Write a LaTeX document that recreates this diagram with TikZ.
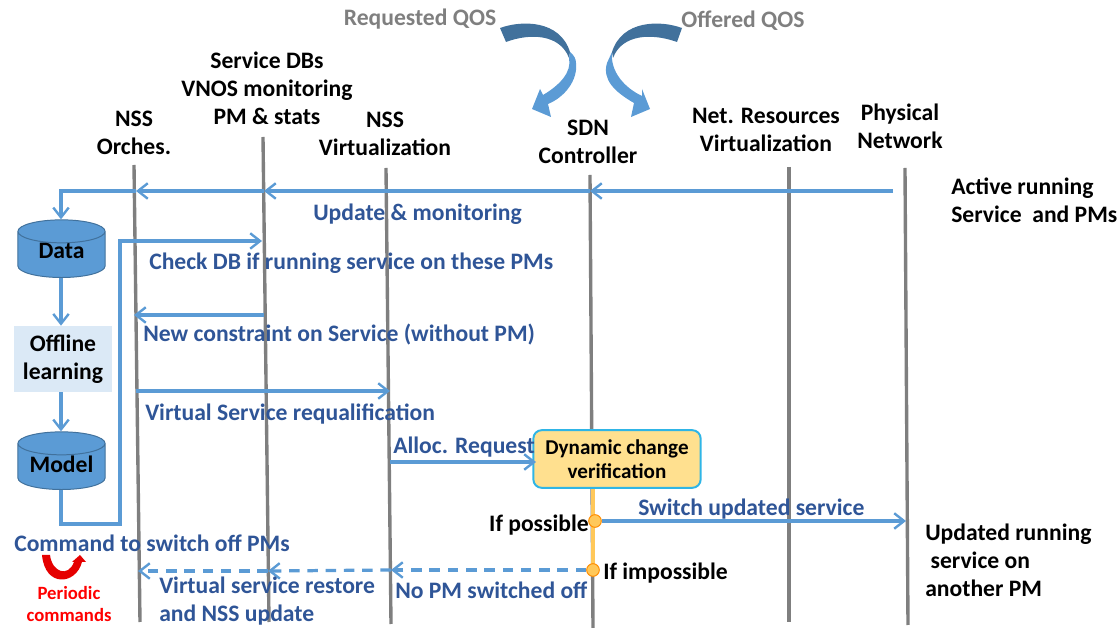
\documentclass[tikz,border=0pt]{standalone}
\usepackage{fontspec}
\setmainfont{Carlito}
\usetikzlibrary{arrows.meta,shapes.geometric}
\definecolor{msgblue}{HTML}{5B9BD5}
\definecolor{darkblue}{HTML}{41719C}
\definecolor{textblue}{HTML}{2F5597}
\definecolor{lifegray}{HTML}{7F7F7F}
\definecolor{boxyellow}{HTML}{FFE08F}
\definecolor{boxcyan}{HTML}{2FB5E6}
\definecolor{pointyellow}{HTML}{FFC85A}
\begin{document}
\begin{tikzpicture}
[x=0.025cm,y=-0.025cm,
  lifedecorate/.style={-,line width=2.4pt,lifegray},
  msgdecorate/.style={-{Straight Barb[length=7pt,width=11pt,line width=1.7pt]},line width=2.3pt,msgblue},
  dashdecorate/.style={msgdecorate,dash pattern=on 7.5pt off 5.5pt},
  headdecorate/.style={inner sep=0pt,align=center,font=\fontsize{16.8}{19.9}\selectfont\bfseries},
  msgtext/.style={inner sep=0pt,anchor=west,text height=14.5pt,text depth=3pt,textblue,font=\fontsize{16.8}{19.9}\selectfont\bfseries},
  blacktext/.style={msgtext,black},
  storedecorate/.style={shape=cylinder,shape border rotate=90,aspect=0.5,draw=darkblue,fill=msgblue,anchor=south,
    minimum width=62pt,minimum height=41pt,inner sep=0pt,line width=0.7pt,font=\fontsize{16.8}{19.9}\selectfont\bfseries},
  pointdecorate/.style={shape=circle,inner sep=0pt,minimum size=9pt,fill=pointyellow,draw=orange!90!yellow,line width=0.7pt}]
% lifeline ends
\useasboundingbox (0,0) rectangle (1120,628);
\coordinate (orchT) at (134,165);
\coordinate (orchB) at (140,622);
\coordinate (dbT) at (263,137);
\coordinate (dbB) at (269,622);
\coordinate (virtT) at (386,168);
\coordinate (virtB) at (391,624);
\coordinate (sdnT) at (590,175);
\coordinate (sdnB) at (593,628);
\coordinate (netT) at (789,167);
\coordinate (netB) at (789,622);
\coordinate (physT) at (905,168);
\coordinate (physB) at (908,625);
\draw[lifedecorate] (orchT) -- (orchB);
\draw[lifedecorate] (dbT) -- (dbB);
\draw[lifedecorate] (virtT) -- (virtB);
\draw[lifedecorate] (sdnT) -- (sdnB);
\draw[lifedecorate] (netT) -- (netB);
\draw[lifedecorate] (physT) -- (physB);
% headers
\node (reqqos) at (420,19) [headdecorate,lifegray] {Requested QOS};
\node (offqos) at (743,21) [headdecorate,lifegray] {Offered QOS};
\node (orchname) at (134,133) [headdecorate] {NSS\\Orches.};
\node (dbname) at (267,88) [headdecorate] {Service DBs\\VNOS monitoring\\PM \& stats};
\node (virtname) at (385,134) [headdecorate] {NSS\\Virtualization};
\node (sdnname) at (588,142) [headdecorate] {SDN\\Controller};
\node (netname) at (766,130) [headdecorate] {Net. Resources\\Virtualization};
\node (physname) at (900,126) [headdecorate] {Physical\\Network};
% boxes
\node (data) at (61.5,278) [storedecorate] {\phantom{Data}};
\node (datatext) at (61.5,251) [headdecorate] {Data};
\node (model) at (61.5,490) [storedecorate] {\phantom{Data}};
\node (modeltext) at (61.5,464) [headdecorate] {Model};
\node (offline) at (63,359) [headdecorate,fill=msgblue!22,minimum width=70pt,minimum height=47pt] {Offline\\learning};
\node (verif) at (617,459) [headdecorate,font=\fontsize{15}{17.5}\selectfont\bfseries,fill=boxyellow,draw=boxcyan,line width=1.4pt,
  rounded corners=6pt,minimum width=119pt,minimum height=41pt] {Dynamic change\\verification};
% message ends
\coordinate (physA) at (893,191);
\coordinate (sdnA) at (590,191);
\coordinate (dbA) at (264,191);
\coordinate (orchA) at (136,191);
\coordinate (bendA) at (61,191);
\coordinate (bendB) at (61,524);
\coordinate (bendC) at (120,524);
\coordinate (bendD) at (120,241);
\coordinate (dbC) at (262,241);
\coordinate (dbD) at (264,315);
\coordinate (orchD) at (134,315);
\coordinate (orchE) at (136,391);
\coordinate (virtE) at (390,391);
\coordinate (virtF) at (390,462);
\coordinate (verifF) at (536,462);
\coordinate (physG) at (906,521);
\coordinate (virtH) at (391,570);
\coordinate (dbH) at (268,571);
\coordinate (orchH) at (138,571);
% decision line and points
\draw[line width=2.2pt,pointyellow] (verif.south -| sdnB) -- (593,570);
\node (possible) at (595,521) [pointdecorate] {};
\node (impossible) at (593,570) [pointdecorate] {};
% edges or lines
\draw[msgdecorate] (physA) -- (sdnA);
\draw[msgdecorate] (sdnA) -- (dbA);
\draw[msgdecorate] (dbA) -- (orchA);
\draw[msgdecorate] (orchA) -- (bendA) -- (data.north -| bendA);
\draw[msgdecorate] (data.south -| bendA) -- (offline.north -| bendA);
\draw[msgdecorate] (offline.south -| bendA) -- (model.north -| bendA);
\draw[msgdecorate] (model.south -| bendA) -- (bendB) -- (bendC) -- (bendD) -- (dbC);
\draw[msgdecorate] (dbD) -- (orchD);
\draw[msgdecorate] (orchE) -- (virtE);
\draw[msgdecorate] (virtF) -- (verifF);
\draw[msgdecorate] (possible) -- (physG);
\draw[dashdecorate] (impossible) -- (virtH);
\draw[dashdecorate] (virtH) -- (dbH);
\draw[dashdecorate] (dbH) -- (orchH);
% labels
\node (updlabel) at (313,212) [msgtext] {Update \& monitoring};
\node (checklabel) at (149,261) [msgtext] {Check DB if running service on these PMs};
\node (newlabel) at (143,333) [msgtext] {New constraint on Service (without PM)};
\node (requallabel) at (145,412) [msgtext] {Virtual Service requalification};
\node (alloclabel) at (393,445) [msgtext] {Alloc. Request};
\node (switchlabel) at (638,507) [msgtext] {Switch updated service};
\node (cmdlabel) at (14,543) [msgtext] {Command to switch off PMs};
\node (restlabel) at (159,585) [msgtext] {Virtual service restore};
\node (nsslabel) at (159,613) [msgtext] {and NSS update};
\node (nopmlabel) at (395,590) [msgtext] {No PM switched off};
\node (possiblelabel) at (589,523) [blacktext,anchor=east] {If possible};
\node (impossiblelabel) at (603,571) [blacktext] {If impossible};
\node (activelabel) at (951,200) [headdecorate,align=left,anchor=west] {Active running\\Service~~and PMs};
\node (updatedlabel) at (925,560) [headdecorate,align=left,anchor=west] {Updated running\\~service on\\another PM};
\node (periodlabel) at (69,604) [headdecorate,red,font=\fontsize{13.3}{15.5}\selectfont\bfseries] {Periodic\\commands};
% curved arrows
\fill[darkblue] (500,28) .. controls (522,20) and (560,20) .. (570,52)
  -- (569,58) .. controls (560,34) and (530,33) .. (506,42) -- cycle;
\fill[msgblue] (570,52) .. controls (574,55) and (576,59) .. (576,63) .. controls (578,80) and (565,97) .. (548,104)
  -- (551,117) -- (532,109) -- (540,89) -- (543,95) .. controls (560,85) and (572,72) .. (569,58) -- cycle;
\fill[darkblue] (682,28) .. controls (660,20) and (622,20) .. (612,52)
  -- (613,58) .. controls (622,34) and (652,33) .. (677,42) -- cycle;
\fill[msgblue] (612,52) .. controls (610,72) and (625,88) .. (642,96)
  -- (642,89) -- (650,109) -- (631,117) -- (634,103) .. controls (615,92) and (602,80) .. (607,63) -- cycle;
\fill[red!90!black] (42,555) -- (50,555) .. controls (52,572) and (68,578) .. (74,562) -- (72,562) -- (80,555) -- (86,562) -- (82,562)
  .. controls (76,585) and (45,588) .. (42,555) -- cycle;
\end{tikzpicture}
\end{document}
